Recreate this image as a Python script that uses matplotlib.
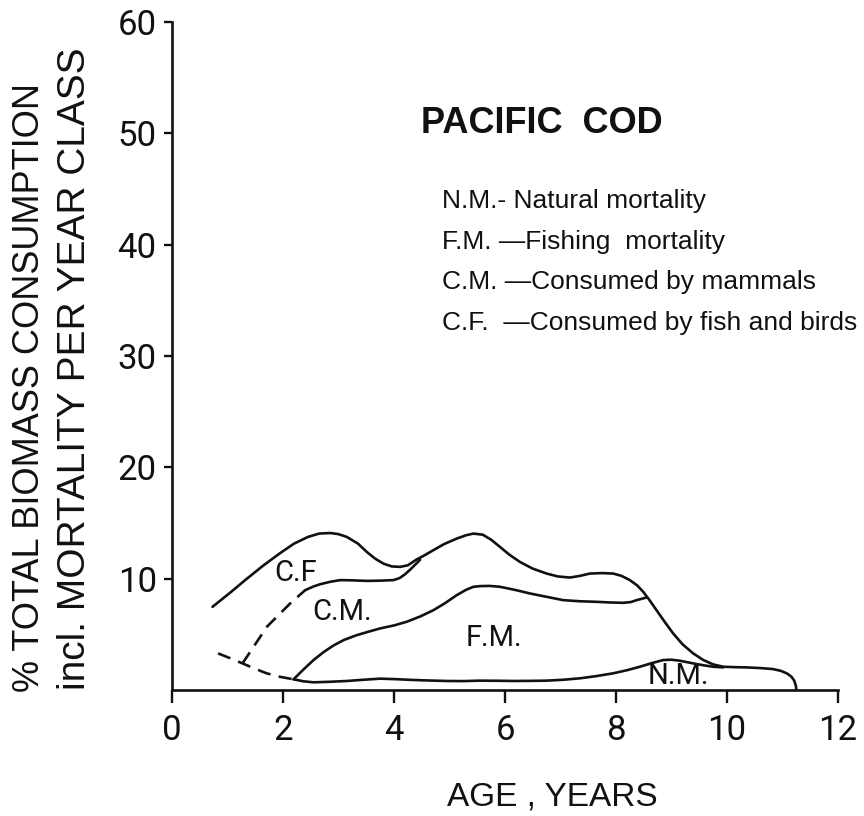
import matplotlib
matplotlib.use("Agg")
import matplotlib.pyplot as plt
import numpy as np

plt.rcParams['font.family'] = ['Liberation Sans', 'DejaVu Sans']

# Age (years) and cumulative % of total biomass for each stacked boundary
total_x = [0.73, 1.05, 1.35, 1.65, 1.95, 2.2, 2.45, 2.65, 2.85, 3.0, 3.15, 3.35, 3.51, 3.66,
           3.81, 3.96, 4.11, 4.25, 4.4, 4.55, 4.71, 4.9, 5.13, 5.3, 5.43, 5.6, 5.75, 5.91,
           6.08, 6.27, 6.5, 6.75, 6.95, 7.17, 7.35, 7.53, 7.75, 7.95, 8.1, 8.25, 8.38, 8.49,
           8.6, 8.73, 8.88, 9.03, 9.2, 9.39, 9.57, 9.75, 9.93, 10.15, 10.35, 10.6, 10.83,
           10.97, 11.08, 11.16, 11.21, 11.24, 11.25]
total_y = [7.47, 8.75, 10.0, 11.2, 12.3, 13.15, 13.75, 14.05, 14.1, 14.0, 13.75, 13.15, 12.4,
           11.8, 11.35, 11.1, 11.06, 11.2, 11.7, 12.1, 12.56, 13.1, 13.6, 13.9, 14.05, 13.95,
           13.5, 12.85, 12.15, 11.5, 10.9, 10.46, 10.2, 10.1, 10.25, 10.46, 10.5, 10.46, 10.25,
           9.87, 9.4, 8.82, 8.1, 7.17, 6.1, 5.08, 4.1, 3.29, 2.7, 2.3, 2.09, 2.05, 2.03, 1.97,
           1.88, 1.72, 1.49, 1.2, 0.85, 0.4, 0.0]

cm_x = [1.27, 1.71, 2.13, 2.40, 2.55, 2.67, 2.85, 3.03, 3.25, 3.51, 3.75, 3.99, 4.1, 4.2,
        4.3, 4.4, 4.47]
cm_y = [2.39, 5.68, 7.78, 8.97, 9.3, 9.5, 9.72, 9.87, 9.85, 9.8, 9.82, 9.87, 10.05, 10.4,
        10.85, 11.35, 11.7]
cm_solid_from = 2.40

fm_x = [2.19, 2.37, 2.55, 2.73, 2.91, 3.1, 3.33, 3.55, 3.75, 4.0, 4.23, 4.47, 4.71, 4.92,
        5.13, 5.3, 5.43, 5.55, 5.72, 5.91, 6.2, 6.45, 6.75, 7.05, 7.35, 7.65, 7.9, 8.13,
        8.27, 8.37, 8.47, 8.55]
fm_y = [0.96, 1.85, 2.69, 3.4, 4.0, 4.5, 4.93, 5.25, 5.53, 5.8, 6.13, 6.6, 7.17, 7.8,
        8.52, 9.0, 9.27, 9.33, 9.35, 9.27, 8.97, 8.67, 8.37, 8.07, 7.97, 7.92, 7.86, 7.83,
        7.9, 8.07, 8.2, 8.31]

nm_x = [0.83, 1.05, 1.27, 1.5, 1.71, 1.95, 2.19, 2.37, 2.55, 2.85, 3.15, 3.45, 3.75, 4.05,
        4.35, 4.65, 4.95, 5.25, 5.55, 5.85, 6.15, 6.45, 6.75, 7.05, 7.35, 7.65, 7.95, 8.2,
        8.43, 8.65, 8.85, 9.0, 9.15, 9.3, 9.45, 9.6, 9.75, 9.93]
nm_y = [3.29, 2.85, 2.39, 1.9, 1.49, 1.18, 0.96, 0.78, 0.69, 0.74, 0.81, 0.92, 1.02, 0.97,
        0.9, 0.85, 0.81, 0.8, 0.84, 0.83, 0.81, 0.82, 0.84, 0.92, 1.05, 1.25, 1.5, 1.78,
        2.09, 2.42, 2.69, 2.72, 2.63, 2.48, 2.33, 2.2, 2.09, 2.03]
nm_solid_from = 2.19

x_ticks = [0, 2, 4, 6, 8, 10, 12]
y_ticks = [10, 20, 30, 40, 50, 60]

band_labels = ["C.F", "C.M.", "F.M.", "N.M."]
band_label_x = [2.22, 3.07, 5.80, 9.12]
band_label_y = [10.5, 7.03, 4.7, 1.29]

title = "PACIFIC  COD"
key_lines = ["N.M.- Natural mortality",
             "F.M. \u2014Fishing  mortality",
             "C.M. \u2014Consumed by mammals",
             "C.F.  \u2014Consumed by fish and birds"]

thin = ['Roboto', 'Liberation Sans', 'DejaVu Sans']

fig = plt.figure(figsize=(8.64, 8.16), dpi=100)
ax = fig.add_axes([172 / 864, 1 - 690 / 816, 666 / 864, 668 / 816])
ax.set_xlim(0, 12)
ax.set_ylim(0, 60)

lw = 1.9
ink = "#111111"
dash = (0, (5, 3.2))


def split_draw(xs, ys, cut):
    xs = np.asarray(xs)
    ys = np.asarray(ys)
    pre = xs <= cut
    post = xs >= cut
    ax.plot(xs[pre], ys[pre], color=ink, lw=lw, linestyle=dash, dash_capstyle='butt')
    ax.plot(xs[post], ys[post], color=ink, lw=lw, solid_joinstyle='round',
            solid_capstyle='round')


ax.plot(total_x, total_y, color=ink, lw=lw, solid_joinstyle='round', solid_capstyle='round')
split_draw(cm_x, cm_y, cm_solid_from)
ax.plot(fm_x, fm_y, color=ink, lw=lw, solid_joinstyle='round', solid_capstyle='round')
split_draw(nm_x, nm_y, nm_solid_from)

for s, bx, by in zip(band_labels, band_label_x, band_label_y):
    ax.text(bx, by, s, ha='center', va='center', fontsize=21, color=ink, family=thin)

ax.text(4.49, 50.0, title, fontsize=26, fontweight='bold', ha='left', va='baseline', color=ink)
for i, line in enumerate(key_lines):
    ax.text(4.86, 43.3 - i * 3.65, line, fontsize=19, ha='left', va='baseline', color=ink)

for side in ("top", "right"):
    ax.spines[side].set_visible(False)
for side in ("left", "bottom"):
    ax.spines[side].set_linewidth(1.9)
    ax.spines[side].set_color(ink)

ax.set_xticks(x_ticks)
ax.set_xticklabels([str(t) for t in x_ticks], family=thin, fontweight='normal')
ax.set_yticks(y_ticks)
ax.set_yticklabels([str(t) for t in y_ticks], family=thin, fontweight='normal')
ax.tick_params(axis='x', direction='out', length=9.5, width=1.7, pad=8, labelsize=25,
               colors=ink)
ax.tick_params(axis='y', direction='out', length=6, width=1.7, pad=5, labelsize=25,
               colors=ink)

fig.text(552 / 864, 1 - 805 / 816, "AGE , YEARS", fontsize=24, ha='center', va='baseline',
         color=ink)
fig.text(29.5 / 864, 1 - 692 / 816, "% TOTAL BIOMASS CONSUMPTION", fontsize=26, rotation=90,
         rotation_mode='anchor', ha='left', va='center', color=ink)
fig.text(75 / 864, 1 - 690 / 816, "incl. MORTALITY PER YEAR CLASS", fontsize=28, rotation=90,
         rotation_mode='anchor', ha='left', va='center', color=ink)

fig.savefig("out.png", dpi=100, facecolor="white")
